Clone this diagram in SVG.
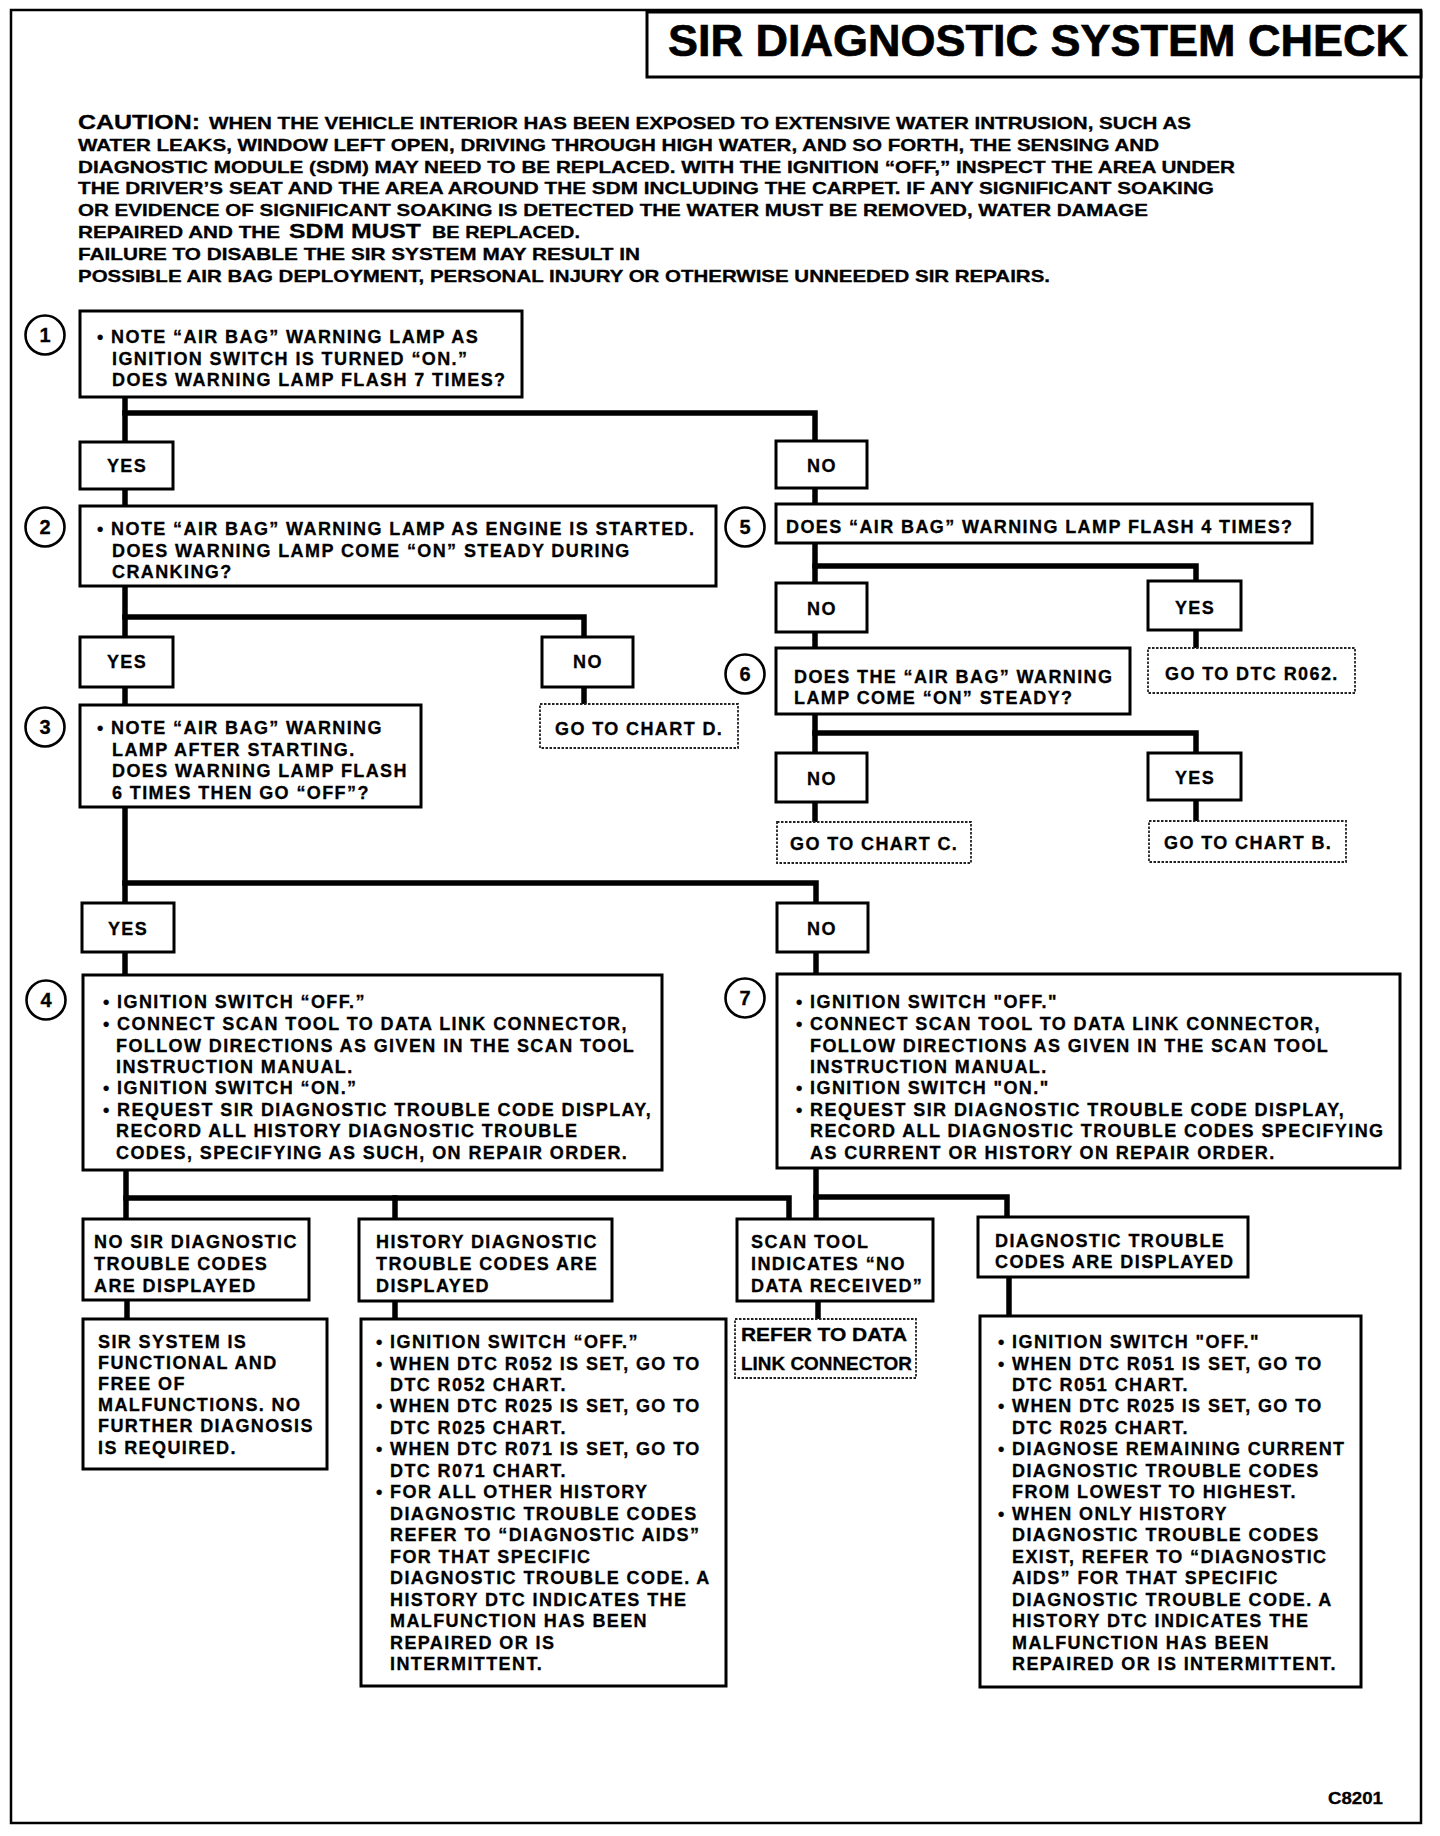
<svg xmlns="http://www.w3.org/2000/svg" width="1440" height="1836" viewBox="0 0 1440 1836">
<style>
  .bg{fill:#fff}
  .frame{fill:none;stroke:#000;stroke-width:2.5}
  .box{fill:#fff;stroke:#000;stroke-width:3}
  .dbox{fill:#fff;stroke:#222;stroke-width:1.8;stroke-dasharray:2.5 1.5}
  .circ{fill:#fff;stroke:#000;stroke-width:2.6}
  .con{fill:none;stroke:#000;stroke-width:5.5;stroke-linejoin:miter;stroke-linecap:square}
  text{font-family:"Liberation Sans",Arial,sans-serif;font-weight:bold;fill:#000;stroke:#000;stroke-width:0.3}
  .t{font-size:18px;letter-spacing:1.4px}
  .yn{font-size:18px;letter-spacing:1.4px;text-anchor:middle}
  .num{font-size:20px;text-anchor:middle}
  .cau{font-size:16.5px}
  .cau2{font-size:21px}
  .title{font-size:45px;stroke-width:0.7}
  .ref{font-size:18px}
</style>
<rect class="bg" x="0" y="0" width="1440" height="1836"/>
<rect class="frame" x="11" y="10" width="1410" height="1813"/>

<g id="title">
  <rect class="box" x="647" y="12" width="774" height="65"/>
  <text class="title" x="668" y="56" textLength="740" lengthAdjust="spacingAndGlyphs">SIR DIAGNOSTIC SYSTEM CHECK</text>
</g>

<g id="caution">
  <text class="cau2" x="78" y="129" textLength="122" lengthAdjust="spacingAndGlyphs">CAUTION:</text>
  <text class="cau" x="209" y="129" textLength="982" lengthAdjust="spacingAndGlyphs">WHEN THE VEHICLE INTERIOR HAS BEEN EXPOSED TO EXTENSIVE WATER INTRUSION, SUCH AS</text>
  <text class="cau" x="78" y="150.8" textLength="1081" lengthAdjust="spacingAndGlyphs">WATER LEAKS, WINDOW LEFT OPEN, DRIVING THROUGH HIGH WATER, AND SO FORTH, THE SENSING AND</text>
  <text class="cau" x="78" y="172.6" textLength="1157" lengthAdjust="spacingAndGlyphs">DIAGNOSTIC MODULE (SDM) MAY NEED TO BE REPLACED. WITH THE IGNITION “OFF,” INSPECT THE AREA UNDER</text>
  <text class="cau" x="78" y="194.4" textLength="1136" lengthAdjust="spacingAndGlyphs">THE DRIVER’S SEAT AND THE AREA AROUND THE SDM INCLUDING THE CARPET. IF ANY SIGNIFICANT SOAKING</text>
  <text class="cau" x="78" y="216.2" textLength="1070" lengthAdjust="spacingAndGlyphs">OR EVIDENCE OF SIGNIFICANT SOAKING IS DETECTED THE WATER MUST BE REMOVED, WATER DAMAGE</text>
  <text class="cau" x="78" y="238" textLength="202" lengthAdjust="spacingAndGlyphs">REPAIRED AND THE</text>
  <text class="cau2" x="289" y="238" textLength="132" lengthAdjust="spacingAndGlyphs">SDM MUST</text>
  <text class="cau" x="432" y="238" textLength="148" lengthAdjust="spacingAndGlyphs">BE REPLACED.</text>
  <text class="cau" x="78" y="259.8" textLength="562" lengthAdjust="spacingAndGlyphs">FAILURE TO DISABLE THE SIR SYSTEM MAY RESULT IN</text>
  <text class="cau" x="78" y="281.6" textLength="972" lengthAdjust="spacingAndGlyphs">POSSIBLE AIR BAG DEPLOYMENT, PERSONAL INJURY OR OTHERWISE UNNEEDED SIR REPAIRS.</text>
</g>

<g id="connectors">
  <polyline class="con" points="125,397 125,442"/>
  <polyline class="con" points="125,413 815,413 815,441"/>
  <polyline class="con" points="125,489 125,506"/>
  <polyline class="con" points="815,488 815,504"/>
  <polyline class="con" points="125,586 125,637"/>
  <polyline class="con" points="125,617 584,617 584,637"/>
  <polyline class="con" points="584,687 584,704"/>
  <polyline class="con" points="125,687 125,705"/>
  <polyline class="con" points="815,543 815,583"/>
  <polyline class="con" points="815,566 1196,566 1196,581"/>
  <polyline class="con" points="1196,630 1196,648"/>
  <polyline class="con" points="815,632 815,648"/>
  <polyline class="con" points="815,714 815,753"/>
  <polyline class="con" points="815,733 1196,733 1196,753"/>
  <polyline class="con" points="815,802 815,822"/>
  <polyline class="con" points="1196,800 1196,821"/>
  <polyline class="con" points="125,807 125,903"/>
  <polyline class="con" points="125,883 816,883 816,903"/>
  <polyline class="con" points="125,952 125,975"/>
  <polyline class="con" points="816,952 816,974"/>
  <polyline class="con" points="126,1170 126,1219"/>
  <polyline class="con" points="126,1198 789,1198 789,1219"/>
  <polyline class="con" points="395,1198 395,1219"/>
  <polyline class="con" points="816,1168 816,1219"/>
  <polyline class="con" points="816,1197 1007,1197 1007,1217"/>
  <polyline class="con" points="127,1300 127,1319"/>
  <polyline class="con" points="395,1301 395,1319"/>
  <polyline class="con" points="818,1301 818,1319"/>
  <polyline class="con" points="1009,1277 1009,1316"/>
</g>

<g id="step1">
  <circle class="circ" cx="45" cy="335" r="19.5"/>
  <text class="num" x="45" y="342">1</text>
  <rect class="box" x="80" y="311" width="442" height="86"/>
  <text class="t"><tspan x="97" y="343">• NOTE “AIR BAG” WARNING LAMP AS</tspan><tspan x="112" y="364.5">IGNITION SWITCH IS TURNED “ON.”</tspan><tspan x="112" y="386">DOES WARNING LAMP FLASH 7 TIMES?</tspan></text>
</g>
<g id="yes1">
  <rect class="box" x="80" y="442" width="93" height="47"/>
  <text class="yn" x="127" y="472">YES</text>
</g>
<g id="no1">
  <rect class="box" x="776" y="441" width="91" height="47"/>
  <text class="yn" x="822" y="472">NO</text>
</g>

<g id="step2">
  <circle class="circ" cx="45" cy="527" r="19.5"/>
  <text class="num" x="45" y="534">2</text>
  <rect class="box" x="80" y="506" width="636" height="80"/>
  <text class="t"><tspan x="97" y="535">• NOTE “AIR BAG” WARNING LAMP AS ENGINE IS STARTED.</tspan><tspan x="112" y="556.5">DOES WARNING LAMP COME “ON” STEADY DURING</tspan><tspan x="112" y="578">CRANKING?</tspan></text>
</g>
<g id="yes2">
  <rect class="box" x="80" y="637" width="93" height="50"/>
  <text class="yn" x="127" y="668">YES</text>
</g>
<g id="no2">
  <rect class="box" x="542" y="637" width="91" height="50"/>
  <text class="yn" x="588" y="668">NO</text>
</g>
<g id="chartD">
  <rect class="dbox" x="540" y="704" width="198" height="44"/>
  <text class="t" x="555" y="735">GO TO CHART D.</text>
</g>

<g id="step3">
  <circle class="circ" cx="45" cy="727" r="19.5"/>
  <text class="num" x="45" y="734">3</text>
  <rect class="box" x="80" y="705" width="341" height="102"/>
  <text class="t"><tspan x="97" y="734">• NOTE “AIR BAG” WARNING</tspan><tspan x="112" y="755.5">LAMP AFTER STARTING.</tspan><tspan x="112" y="777">DOES WARNING LAMP FLASH</tspan><tspan x="112" y="798.5">6 TIMES THEN GO “OFF”?</tspan></text>
</g>

<g id="step5">
  <circle class="circ" cx="745" cy="527" r="19.5"/>
  <text class="num" x="745" y="534">5</text>
  <rect class="box" x="776" y="504" width="536" height="39"/>
  <text class="t" x="786" y="533">DOES “AIR BAG” WARNING LAMP FLASH 4 TIMES?</text>
</g>
<g id="no5">
  <rect class="box" x="776" y="583" width="91" height="49"/>
  <text class="yn" x="822" y="615">NO</text>
</g>
<g id="yes5">
  <rect class="box" x="1148" y="581" width="93" height="49"/>
  <text class="yn" x="1195" y="614">YES</text>
</g>
<g id="dtcR062">
  <rect class="dbox" x="1148" y="648" width="207" height="45"/>
  <text class="t" x="1165" y="680">GO TO DTC R062.</text>
</g>

<g id="step6">
  <circle class="circ" cx="745" cy="674" r="19.5"/>
  <text class="num" x="745" y="681">6</text>
  <rect class="box" x="776" y="648" width="354" height="66"/>
  <text class="t"><tspan x="794" y="683">DOES THE “AIR BAG” WARNING</tspan><tspan x="794" y="704">LAMP COME “ON” STEADY?</tspan></text>
</g>
<g id="no6">
  <rect class="box" x="776" y="753" width="91" height="49"/>
  <text class="yn" x="822" y="785">NO</text>
</g>
<g id="yes6">
  <rect class="box" x="1148" y="753" width="93" height="47"/>
  <text class="yn" x="1195" y="784">YES</text>
</g>
<g id="chartC">
  <rect class="dbox" x="777" y="822" width="194" height="41"/>
  <text class="t" x="790" y="850">GO TO CHART C.</text>
</g>
<g id="chartB">
  <rect class="dbox" x="1149" y="821" width="197" height="41"/>
  <text class="t" x="1164" y="849">GO TO CHART B.</text>
</g>

<g id="yes3">
  <rect class="box" x="82" y="903" width="92" height="49"/>
  <text class="yn" x="128" y="935">YES</text>
</g>
<g id="no3">
  <rect class="box" x="777" y="903" width="91" height="49"/>
  <text class="yn" x="822" y="935">NO</text>
</g>

<g id="step4">
  <circle class="circ" cx="46" cy="1000" r="19.5"/>
  <text class="num" x="46" y="1007">4</text>
  <rect class="box" x="83" y="975" width="579" height="195"/>
  <text class="t"><tspan x="103" y="1008">• IGNITION SWITCH “OFF.”</tspan><tspan x="103" y="1030">• CONNECT SCAN TOOL TO DATA LINK CONNECTOR,</tspan><tspan x="116" y="1051.5">FOLLOW DIRECTIONS AS GIVEN IN THE SCAN TOOL</tspan><tspan x="116" y="1073">INSTRUCTION MANUAL.</tspan><tspan x="103" y="1094">• IGNITION SWITCH “ON.”</tspan><tspan x="103" y="1115.5">• REQUEST SIR DIAGNOSTIC TROUBLE CODE DISPLAY,</tspan><tspan x="116" y="1137">RECORD ALL HISTORY DIAGNOSTIC TROUBLE</tspan><tspan x="116" y="1158.5">CODES, SPECIFYING AS SUCH, ON REPAIR ORDER.</tspan></text>
</g>

<g id="step7">
  <circle class="circ" cx="745" cy="998" r="19.5"/>
  <text class="num" x="745" y="1005">7</text>
  <rect class="box" x="777" y="974" width="623" height="194"/>
  <text class="t"><tspan x="796" y="1008">• IGNITION SWITCH "OFF."</tspan><tspan x="796" y="1030">• CONNECT SCAN TOOL TO DATA LINK CONNECTOR,</tspan><tspan x="810" y="1051.5">FOLLOW DIRECTIONS AS GIVEN IN THE SCAN TOOL</tspan><tspan x="810" y="1073">INSTRUCTION MANUAL.</tspan><tspan x="796" y="1094">• IGNITION SWITCH "ON."</tspan><tspan x="796" y="1115.5">• REQUEST SIR DIAGNOSTIC TROUBLE CODE DISPLAY,</tspan><tspan x="810" y="1137">RECORD ALL DIAGNOSTIC TROUBLE CODES SPECIFYING</tspan><tspan x="810" y="1158.5">AS CURRENT OR HISTORY ON REPAIR ORDER.</tspan></text>
</g>

<g id="noCodes">
  <rect class="box" x="83" y="1219" width="226" height="81"/>
  <text class="t"><tspan x="94" y="1248">NO SIR DIAGNOSTIC</tspan><tspan x="94" y="1270">TROUBLE CODES</tspan><tspan x="94" y="1292">ARE DISPLAYED</tspan></text>
</g>
<g id="historyCodes">
  <rect class="box" x="359" y="1219" width="253" height="82"/>
  <text class="t"><tspan x="376" y="1248">HISTORY DIAGNOSTIC</tspan><tspan x="376" y="1270">TROUBLE CODES ARE</tspan><tspan x="376" y="1292">DISPLAYED</tspan></text>
</g>
<g id="noData">
  <rect class="box" x="737" y="1219" width="196" height="82"/>
  <text class="t"><tspan x="751" y="1248">SCAN TOOL</tspan><tspan x="751" y="1270">INDICATES “NO</tspan><tspan x="751" y="1292">DATA RECEIVED”</tspan></text>
</g>
<g id="codesDisplayed">
  <rect class="box" x="978" y="1217" width="270" height="60"/>
  <text class="t"><tspan x="995" y="1247">DIAGNOSTIC TROUBLE</tspan><tspan x="995" y="1268">CODES ARE DISPLAYED</tspan></text>
</g>

<g id="sirFunctional">
  <rect class="box" x="83" y="1319" width="244" height="150"/>
  <text class="t"><tspan x="98" y="1347.5">SIR SYSTEM IS</tspan><tspan x="98" y="1368.7">FUNCTIONAL AND</tspan><tspan x="98" y="1389.9">FREE OF</tspan><tspan x="98" y="1411.1">MALFUNCTIONS. NO</tspan><tspan x="98" y="1432.3">FURTHER DIAGNOSIS</tspan><tspan x="98" y="1453.5">IS REQUIRED.</tspan></text>
</g>

<g id="historyActions">
  <rect class="box" x="361" y="1319" width="365" height="367"/>
  <text class="t"><tspan x="376" y="1348">• IGNITION SWITCH “OFF.”</tspan><tspan x="376" y="1369.5">• WHEN DTC R052 IS SET, GO TO</tspan><tspan x="390" y="1390.9">DTC R052 CHART.</tspan><tspan x="376" y="1412.4">• WHEN DTC R025 IS SET, GO TO</tspan><tspan x="390" y="1433.9">DTC R025 CHART.</tspan><tspan x="376" y="1455.4">• WHEN DTC R071 IS SET, GO TO</tspan><tspan x="390" y="1476.8">DTC R071 CHART.</tspan><tspan x="376" y="1498.3">• FOR ALL OTHER HISTORY</tspan><tspan x="390" y="1519.8">DIAGNOSTIC TROUBLE CODES</tspan><tspan x="390" y="1541.2">REFER TO “DIAGNOSTIC AIDS”</tspan><tspan x="390" y="1562.7">FOR THAT SPECIFIC</tspan><tspan x="390" y="1584.2">DIAGNOSTIC TROUBLE CODE. A</tspan><tspan x="390" y="1605.6">HISTORY DTC INDICATES THE</tspan><tspan x="390" y="1627.1">MALFUNCTION HAS BEEN</tspan><tspan x="390" y="1648.6">REPAIRED OR IS</tspan><tspan x="390" y="1670">INTERMITTENT.</tspan></text>
</g>

<g id="referDLC">
  <rect class="dbox" x="735" y="1319" width="181" height="59"/>
  <text class="ref" x="741" y="1341" textLength="166" lengthAdjust="spacingAndGlyphs">REFER TO DATA</text>
  <text class="ref" x="741" y="1370" textLength="171" lengthAdjust="spacingAndGlyphs">LINK CONNECTOR</text>
</g>

<g id="codeActions">
  <rect class="box" x="980" y="1316" width="381" height="371"/>
  <text class="t"><tspan x="998" y="1348">• IGNITION SWITCH "OFF."</tspan><tspan x="998" y="1369.5">• WHEN DTC R051 IS SET, GO TO</tspan><tspan x="1012" y="1390.9">DTC R051 CHART.</tspan><tspan x="998" y="1412.4">• WHEN DTC R025 IS SET, GO TO</tspan><tspan x="1012" y="1433.9">DTC R025 CHART.</tspan><tspan x="998" y="1455.4">• DIAGNOSE REMAINING CURRENT</tspan><tspan x="1012" y="1476.8">DIAGNOSTIC TROUBLE CODES</tspan><tspan x="1012" y="1498.3">FROM LOWEST TO HIGHEST.</tspan><tspan x="998" y="1519.8">• WHEN ONLY HISTORY</tspan><tspan x="1012" y="1541.2">DIAGNOSTIC TROUBLE CODES</tspan><tspan x="1012" y="1562.7">EXIST, REFER TO “DIAGNOSTIC</tspan><tspan x="1012" y="1584.2">AIDS” FOR THAT SPECIFIC</tspan><tspan x="1012" y="1605.6">DIAGNOSTIC TROUBLE CODE. A</tspan><tspan x="1012" y="1627.1">HISTORY DTC INDICATES THE</tspan><tspan x="1012" y="1648.6">MALFUNCTION HAS BEEN</tspan><tspan x="1012" y="1670">REPAIRED OR IS INTERMITTENT.</tspan></text>
</g>

<g id="code">
  <text x="1328" y="1804" font-size="16" textLength="55" lengthAdjust="spacingAndGlyphs">C8201</text>
</g>
</svg>
